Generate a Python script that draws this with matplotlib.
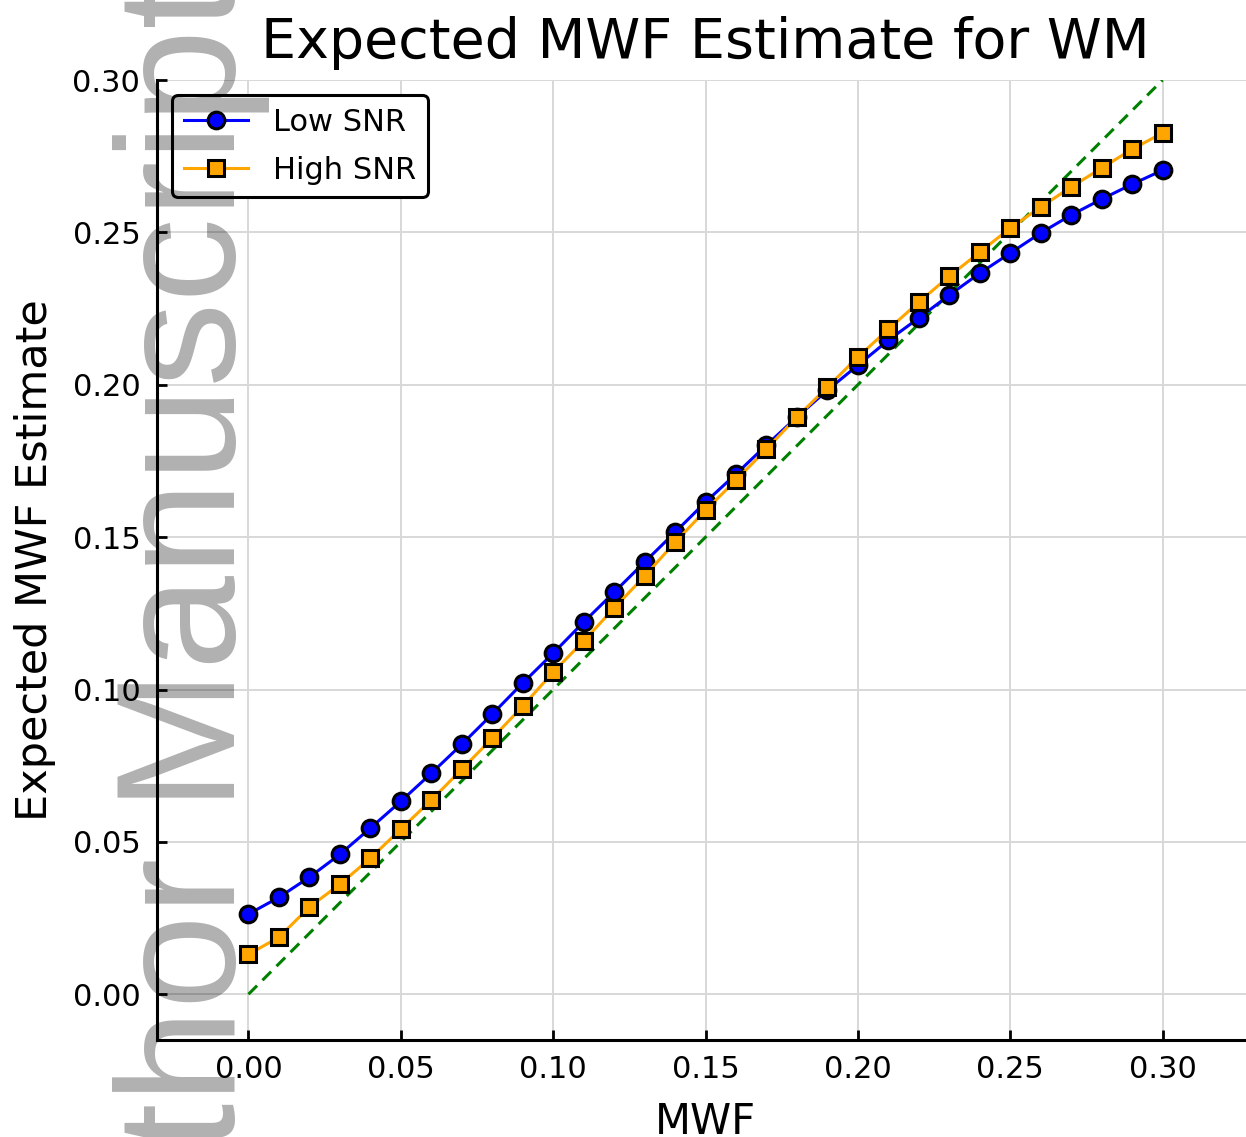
import numpy as np
import matplotlib
matplotlib.use('Agg')
import matplotlib.pyplot as plt

mwf = [0.00, 0.01, 0.02, 0.03, 0.04, 0.05, 0.06, 0.07, 0.08, 0.09, 0.10,
       0.11, 0.12, 0.13, 0.14, 0.15, 0.16, 0.17, 0.18, 0.19, 0.20,
       0.21, 0.22, 0.23, 0.24, 0.25, 0.26, 0.27, 0.28, 0.29, 0.30]
low_snr = [0.0263, 0.0318, 0.0384, 0.0459, 0.0545, 0.0633, 0.0725, 0.0820, 0.0919, 0.1021, 0.1119,
           0.1221, 0.1319, 0.1418, 0.1516, 0.1615, 0.1707, 0.1802, 0.1894, 0.1982, 0.2064,
           0.2146, 0.2219, 0.2294, 0.2366, 0.2432, 0.2498, 0.2557, 0.2609, 0.2658, 0.2704]
high_snr = [0.0131, 0.0187, 0.0286, 0.0361, 0.0446, 0.0542, 0.0637, 0.0738, 0.0840, 0.0945, 0.1057,
            0.1159, 0.1267, 0.1372, 0.1483, 0.1588, 0.1687, 0.1789, 0.1894, 0.1992, 0.2091,
            0.2182, 0.2271, 0.2356, 0.2435, 0.2514, 0.2583, 0.2649, 0.2711, 0.2773, 0.2826]
ticks = [0.00, 0.05, 0.10, 0.15, 0.20, 0.25, 0.30]
tick_labels = ['0.00', '0.05', '0.10', '0.15', '0.20', '0.25', '0.30']

fig = plt.figure(figsize=(12.46, 11.37), dpi=100)
# axes runs a little past the right edge of the picture, as in the original crop
ax = fig.add_axes([157 / 1246, 1 - 1040 / 1137, (1254 - 157) / 1246, (1040 - 80) / 1137])

ax.plot([0, 0.30], [0, 0.30], color='green', ls='--', lw=2.2, dashes=(4, 2.5), zorder=2)
ax.plot(mwf, low_snr, color='blue', lw=2.2, marker='o', ms=12, mfc='blue', mec='black',
        mew=2.2, label='Low SNR', zorder=3)
ax.plot(mwf, high_snr, color='orange', lw=2.2, marker='s', ms=11, mfc='orange', mec='black',
        mew=2.2, label='High SNR', zorder=3)

ax.set_xlim(-0.03, 0.33)
ax.set_ylim(-0.015, 0.30)
ax.set_xticks(ticks)
ax.set_xticklabels(tick_labels)
ax.set_yticks(ticks)
ax.set_yticklabels(tick_labels)
ax.grid(True, color='#d8d8d8', lw=1.4, zorder=0)
ax.set_axisbelow(True)
for s in ['top', 'right']:
    ax.spines[s].set_visible(False)
for s in ['left', 'bottom']:
    ax.spines[s].set_linewidth(2.2)
ax.tick_params(direction='in', length=7, width=2, labelsize=22)
ax.tick_params(axis='x', pad=11)
ax.tick_params(axis='y', pad=12)

ax.set_title('Expected MWF Estimate for WM', fontsize=40, pad=16)
ax.set_xlabel('MWF', fontsize=30, labelpad=12)
ax.set_ylabel('Expected MWF Estimate', fontsize=31, labelpad=12)

leg = ax.legend(loc='upper left', fontsize=22, frameon=True, fancybox=True,
                borderaxespad=0, handlelength=2.1, borderpad=0.4, labelspacing=0.62,
                bbox_to_anchor=(15 / 1097, 0.984))
leg.get_frame().set_edgecolor('black')
leg.get_frame().set_linewidth(2.2)
leg.get_frame().set_alpha(1)

fig.text(235 / 1246, -0.1935, 'Author Manuscript', rotation=90, rotation_mode='anchor',
         ha='left', va='baseline', fontsize=122, family='Liberation Sans',
         color='black', alpha=0.31, zorder=10)

fig.savefig('out.png', dpi=100)
